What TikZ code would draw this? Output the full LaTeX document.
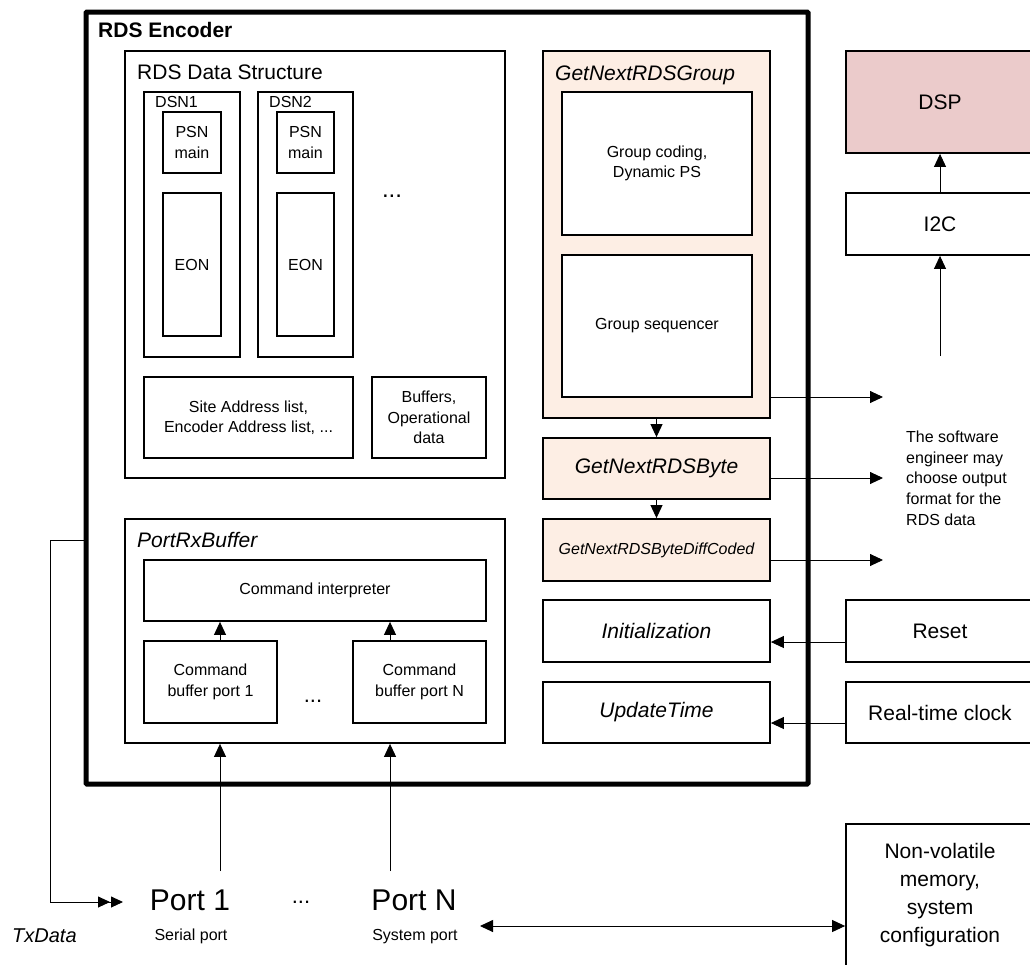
\documentclass[tikz,border=0pt]{standalone}
\usepackage{fontspec}
\setmainfont{Liberation Sans}
\usetikzlibrary{arrows.meta}
\newcommand{\txtS}{\fontsize{16}{20.5}\selectfont}
\newcommand{\txtL}{\fontsize{21}{28}\selectfont}
\definecolor{peach}{HTML}{FDEEE4}
\definecolor{dsppink}{HTML}{EBCBCB}

\begin{document}
\begin{tikzpicture}[x=1pt,y=-1pt]

\tikzset{box/.style = {draw, fill=white, line width=1.8pt, inner sep=0pt, align=center, font=\txtS}}
\tikzset{bigbox/.style = {box, font=\txtL}}
\tikzset{boxtitle/.style = {inner sep=0pt, anchor=base west, font=\txtL}}
\tikzset{plain/.style = {inner sep=0pt, font=\txtS}}
\tikzset{arr/.style = {-{Triangle[length=13pt,width=12pt]}, line width=0.9pt}}

\useasboundingbox (0,0) rectangle (1030,964);
\clip (0,0) rectangle (1030,964);

%encoder
\node[draw, fill=white, line width=5pt, rounded corners=1pt, minimum width=722, minimum height=772] (enc) at (447,398) {};
\node[boxtitle, font=\bfseries\txtL] (enctitle) at (98,37) {RDS Encoder};

%data structure
\node[box, minimum width=380, minimum height=427] (ds) at (315,264.5) {};
\node[boxtitle] (dstitle) at (137,79) {RDS Data Structure};
\node[box, minimum width=96, minimum height=265] (dsn1) at (192,224.5) {};
\node[box, minimum width=95, minimum height=265] (dsn2) at (305.5,224.5) {};
\node[boxtitle, font=\txtS] (dsn1title) at (155,107) {DSN1};
\node[boxtitle, font=\txtS] (dsn2title) at (269,107) {DSN2};
\node[box, minimum width=58, minimum height=61] (psn1) at (192,142.5) {PSN\\main};
\node[box, minimum width=57, minimum height=61] (psn2) at (305.5,142.5) {PSN\\main};
\node[box, minimum width=58, minimum height=143] (eon1) at (192,264.5) {EON};
\node[box, minimum width=57, minimum height=143] (eon2) at (305.5,264.5) {EON};
\node[plain, anchor=base, font=\fontsize{24}{24}\selectfont] (dsdots) at (392,197) {...};
\node[box, minimum width=209, minimum height=81] (site) at (248.5,417.5) {Site Address list,\\Encoder Address list, ...};
\node[box, minimum width=114, minimum height=81] (buf) at (429,417.5) {Buffers,\\Operational\\data};

%port buffer
\node[box, minimum width=380, minimum height=224] (rx) at (315,631) {};
\node[boxtitle, font=\itshape\txtL] (rxtitle) at (137,547) {PortRxBuffer};
\node[box, minimum width=342, minimum height=61] (interp) at (315,590.5) {Command interpreter};
\node[box, minimum width=133, minimum height=82] (cb1) at (210.5,682) {Command\\buffer port 1};
\node[box, minimum width=133, minimum height=82] (cbn) at (419.5,682) {Command\\buffer port N};
\node[plain, anchor=base, font=\fontsize{22}{22}\selectfont] (cbdots) at (313,702) {...};

%group functions
\node[box, fill=peach, minimum width=227, minimum height=367] (grp) at (656.5,234.5) {};
\node[boxtitle, font=\itshape\txtL] (grptitle) at (555,80) {GetNextRDSGroup};
\node[box, minimum width=190, minimum height=143] (gcod) at (657,163.5) {Group coding,\\Dynamic PS};
\node[box, minimum width=190, minimum height=142] (gseq) at (657,326) {Group sequencer};
\node[bigbox, fill=peach, font=\itshape\txtL, minimum width=227, minimum height=61] (byte) at (656.5,468.5) {GetNextRDSByte};
\node[box, fill=peach, font=\itshape\txtS, minimum width=227, minimum height=62] (diff) at (656.5,550) {GetNextRDSByteDiffCoded};
\node[bigbox, font=\itshape\txtL, minimum width=227, minimum height=62] (init) at (656.5,631) {Initialization};
\node[bigbox, font=\itshape\txtL, minimum width=227, minimum height=61] (upd) at (656.5,712.5) {UpdateTime};

%outside
\node[bigbox, fill=dsppink, minimum width=188, minimum height=102] (dsp) at (940,102) {DSP};
\node[bigbox, minimum width=188, minimum height=62] (i2c) at (940,224) {I2C};
\node[bigbox, minimum width=188, minimum height=62] (reset) at (940,631) {Reset};
\node[bigbox, minimum width=188, minimum height=61] (rtc) at (940,712.5) {Real-time clock};
\node[bigbox, minimum width=188, minimum height=142] (nvm) at (940,895) {Non-volatile\\memory,\\system\\configuration};
\node[plain, anchor=west, align=left, font=\fontsize{16}{20.7}\selectfont] (note) at (906,478) {The software\\engineer may\\choose output\\format for the\\RDS data};

%ports
\node[plain, font=\fontsize{30}{30}\selectfont] (port1) at (190,900) {Port 1};
\node[plain, anchor=base] (port1sub) at (191,940) {Serial port};
\node[plain, font=\fontsize{30}{30}\selectfont] (portn) at (414,900) {Port N};
\node[plain, anchor=base] (portnsub) at (415,940) {System port};
\node[plain, anchor=base, font=\fontsize{22}{22}\selectfont] (portdots) at (301,903) {...};
\node[plain, anchor=base west, font=\itshape\fontsize{20}{20}\selectfont] (txdata) at (12,942) {TxData};

%connectors
\coordinate (i2cin) at (940,356);
\coordinate (o1) at (883,397);
\coordinate (o2) at (883,478);
\coordinate (o3) at (883,560);
\coordinate (p1) at (220,871);
\coordinate (pn) at (390,871);
\coordinate (tx) at (50,540);
\coordinate (txend) at (123,902);
\coordinate (nvl) at (480,926);

\draw[arr] (i2c.north) -- (dsp.south);
\draw[arr] (i2cin) -- (i2c.south);
\draw[arr] (grp.south) -- (byte.north);
\draw[arr] (byte.south) -- (diff.north);
\draw[arr] (grp.east |- o1) -- (o1);
\draw[arr] (byte.east |- o2) -- (o2);
\draw[arr] (diff.east |- o3) -- (o3);
\draw[arr] ([yshift=-11pt]reset.west) -- ([yshift=-11pt]init.east);
\draw[arr] ([yshift=-10.5pt]rtc.west) -- ([yshift=-10.5pt]upd.east);
\draw[arr] (cb1.north -| p1) -- (interp.south -| p1);
\draw[arr] (cbn.north -| pn) -- (interp.south -| pn);
\draw[arr] (p1) -- (p1 |- rx.south);
\draw[arr] (pn) -- (pn |- rx.south);
\draw[line width=0.9pt, -{Triangle[length=12pt,width=11pt,sep=1pt]Triangle[length=12pt,width=11pt]}] (enc.west |- tx) -- (tx) |- (txend);
\draw[line width=0.9pt, {Triangle[length=13pt,width=12pt]}-{Triangle[length=13pt,width=12pt]}] (nvl) -- (nvl -| nvm.west);

\end{tikzpicture}
\end{document}
